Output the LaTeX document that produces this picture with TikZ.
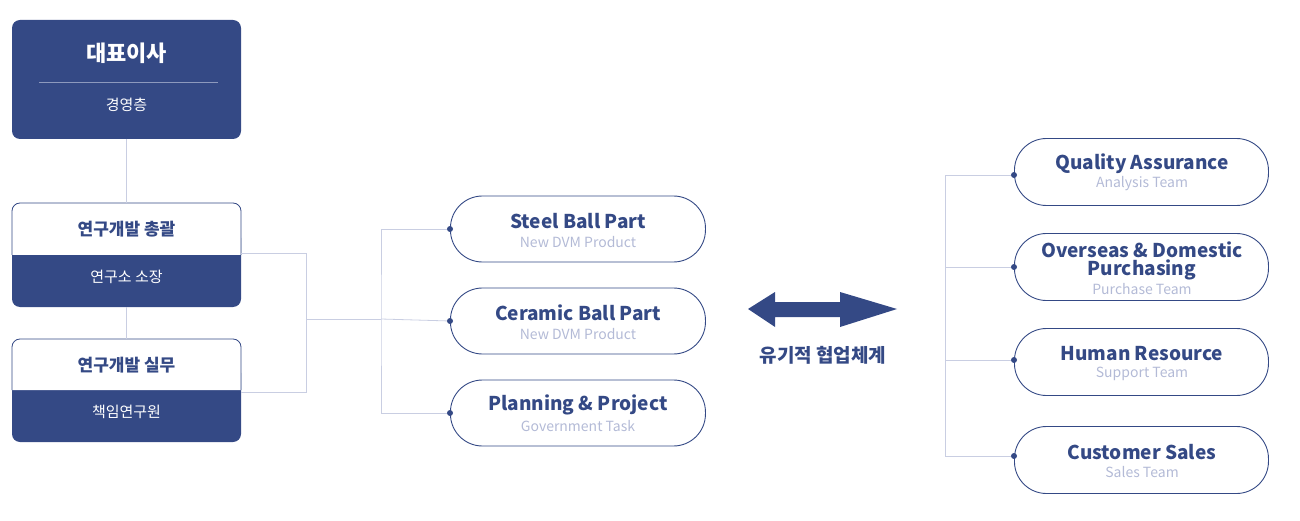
\documentclass[tikz,border=0pt]{standalone}
\usepackage{fontspec}
\setmainfont{Noto Sans CJK KR}
\definecolor{navy}{HTML}{344985}
\definecolor{sub}{HTML}{B3BAD6}
\definecolor{ln}{HTML}{C9CEE2}
\begin{document}
\begin{tikzpicture}[x=1pt,y=-1pt,
 pill/.style={draw=navy,line width=0.9pt,rounded corners=32pt,minimum width=255pt,minimum height=66pt,inner sep=0pt,anchor=west},
 ttl/.style={text=navy,font=\bfseries\fontsize{19}{19}\selectfont,align=center},
 sbt/.style={text=sub,font=\fontsize{14}{14}\selectfont},
 conn/.style={draw=ln,line width=0.8pt},
 dot/.style={circle,fill=navy,inner sep=0pt,minimum size=6pt}]
\useasboundingbox (0,0) rectangle (1300,521);
% CEO
\fill[navy,rounded corners=8pt] (12,20) rectangle (241,139);
\node (ceo) at (126.5,79) {};
\draw[draw=ln!60!navy,line width=0.6pt] (39,82) -- (218,82);
\node[text=white,font=\bfseries\fontsize{22}{22}\selectfont] at (126.5,53) {대표이사};
\node[text=white,font=\fontsize{15}{15}\selectfont] at (126.5,105) {경영층};
% box2
\fill[navy,rounded corners=8pt] (12,230) rectangle (241,307);
\fill[navy] (12,255) rectangle (241,280);
\filldraw[fill=white,draw=navy,line width=0.8pt,rounded corners=8pt] (12,255) -- (12,203) -- (241,203) -- (241,255);
\node[text=navy,font=\bfseries\fontsize{17}{17}\selectfont] at (126.5,229) {연구개발 총괄};
\node[text=white,font=\fontsize{15}{15}\selectfont] at (126.5,277) {연구소 소장};
% box3
\fill[navy,rounded corners=8pt] (12,365) rectangle (241,442);
\fill[navy] (12,390) rectangle (241,415);
\filldraw[fill=white,draw=navy,line width=0.8pt,rounded corners=8pt] (12,390) -- (12,339) -- (241,339) -- (241,390);
\node[text=navy,font=\bfseries\fontsize{17}{17}\selectfont] at (126.5,365) {연구개발 실무};
\node[text=white,font=\fontsize{15}{15}\selectfont] at (126.5,412) {책임연구원};
\coordinate (b2r) at (241,253);
\coordinate (b3r) at (241,392);
\draw[conn] (126.5,139) -- (126.5,203);
\draw[conn] (126.5,307) -- (126.5,339);
\draw[conn] (b2r) -- (306,253) -- (306,392) -- (b3r);
\coordinate (lj) at (381,319);
\draw[conn] (306,319) -- (lj);
% left pills
\foreach \n/\y/\t/\s in {p1/229/Steel Ball Part/New DVM Product, p2/321/Ceramic Ball Part/New DVM Product, p3/413/Planning \& Project/Government Task}{
 \node[pill] (\n) at (450,\y) {};
 \node[ttl] at (578,\y-8) {\t};
 \node[sbt] at (578,\y+13) {\s};
 \node[dot] (\n d) at (\n.west) {};
}
\draw[conn] (p1d) -| (381,319) |- (p3d);
\draw[conn] (lj) -- (p2d);
% arrow
\fill[navy,line join=round] (748,309) -- (775,292) -- (775,302) -- (840,302) -- (840,292) -- (897,309) -- (840,327) -- (840,317) -- (775,317) -- (775,327) -- cycle;
\node[text=navy,font=\bfseries\fontsize{19}{19}\selectfont] (lbl) at (823,355) {유기적 협업체계};
% right pills
\foreach \n/\y/\t/\s in {q1/172/Quality Assurance/Analysis Team, q3/362/Human Resource/Support Team, q4/460/Customer Sales/Sales Team}{
 \node[pill,minimum width=254pt,minimum height=67pt] (\n) at (1014,\y) {};
 \node[ttl] at (1142,\y-8) {\t};
 \node[sbt] at (1142,\y+12) {\s};
}
\node[pill,minimum width=254pt,minimum height=67pt] (q2) at (1014,267) {};
\node[ttl] at (1142,261) {Overseas \& Domestic\\[-1pt]Purchasing};
\node[sbt] at (1142,289) {Purchase Team};
\node[dot] (q1d) at (1014,175) {};
\node[dot] (q2d) at (1014,267) {};
\node[dot] (q3d) at (1014,360) {};
\node[dot] (q4d) at (1014,456) {};
\draw[conn] (q1d) -| (945,456) -- (q4d);
\draw[conn] (945,267) -- (q2d);
\draw[conn] (945,360) -- (q3d);
\end{tikzpicture}
\end{document}
